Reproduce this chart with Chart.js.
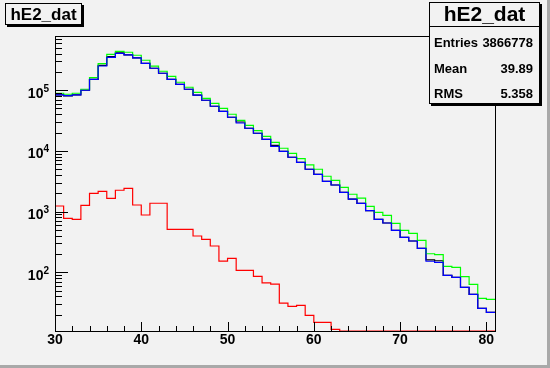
<!DOCTYPE html>
<html>
<head>
<meta charset="utf-8">
<script src="https://cdn.jsdelivr.net/npm/chart.js@4/dist/chart.umd.min.js"></script>
<style>
  html, body { margin: 0; padding: 0; background: #f2f2f2; }
  canvas { display: block; }
</style>
</head>
<body>
<canvas id="c" width="550" height="368"></canvas>
<script>
// hE2_dat — 1 unit bins from 30 to 81, log y axis
const xMin = 30, xMax = 81;
const yMin = 10.8, yMax = 7.8e5;
const binEdges = [];
for (let x = xMin; x <= xMax; x++) binEdges.push(x);

const xTickLabels = ['30', '40', '50', '60', '70', '80'];
const yDecades = [2, 3, 4, 5];

const greenVals = [88900, 85600, 88900, 103500, 160600, 273400, 390000, 437000, 421000, 376000,
  311000, 248000, 205000, 169000, 135000, 111600, 92300, 73500, 60800, 50300,
  40100, 31900, 26400, 21500, 17400, 13850, 11040, 9130, 7450, 5860,
  4980, 3820, 3280, 2515, 1930, 1665, 1215, 973, 868, 641,
  492, 439, 336, 202, 195, 125, 121, 84.7, 63.4, 37.3, 35.9];

const blueVals = [83400, 81200, 83400, 99600, 151000, 250000, 348000, 405000, 380000, 339000,
  277000, 229500, 190000, 151000, 125000, 103500, 83000, 68200, 54300, 44900,
  35800, 28800, 23600, 19500, 15500, 11900, 9850, 7850, 6490, 4980,
  4110, 3150, 2740, 2080, 1605, 1370, 1040, 747, 649, 492,
  377, 328, 248, 152, 146, 89, 82.8, 56.6, 43.4, 25.5, 21.9];

// mostly hidden under the blue one
const blackVals = [83400, 80500, 83400, 99600, 151000, 256000, 356000, 410000, 380000, 339000,
  277000, 229500, 190000, 151000, 125000, 103500, 83000, 68200, 54300, 44900,
  35800, 29900, 23600, 19500, 15500, 12300, 9850, 7850, 6490, 4980,
  4110, 3150, 2740, 2080, 1605, 1370, 1040, 747, 649, 492,
  377, 328, 248, 160, 155, 89, 82.8, 56.6, 43.4, 25.5, 21.9];

// empty bins sit on the axis floor
const redVals = [1236, 776, 747, 1270, 2000, 2160, 1655, 2245, 2420, 1285,
  879, 1372, 1372, 511, 511, 511, 396, 350, 271, 153,
  170, 108, 108, 86, 67, 64, 31, 27.5, 28.6, 19.5,
  15, 15, 11.5, 10.8, 10.8, 10.8, 10.8, 10.8, 10.8, 10.8,
  10.8, 10.8, 10.8, 10.8, 10.8, 10.8, 10.8, 10.8, 10.8, 10.8, 10.8];

const statsTitle = 'hE2_dat';
const statsRows = [['Entries', '3866778'], ['Mean', '39.89'], ['RMS', '5.358']];

function hist(vals, color) {
  return {
    data: binEdges.map((x, i) => ({ x, y: vals[Math.min(i, vals.length - 1)] })),
    borderColor: color, borderWidth: 1.2, stepped: true,
    pointRadius: 0, fill: false
  };
}

const FONT = '"Liberation Sans", Arial, sans-serif';

const rootFrame = {
  id: 'rootFrame',
  beforeDraw(chart) {
    const { ctx, width, height } = chart;
    ctx.save();
    ctx.fillStyle = '#f2f2f2';
    ctx.fillRect(0, 0, width, height);
    ctx.fillStyle = '#a9a9a9';
    ctx.fillRect(0, height - 3, width, 3);
    ctx.fillRect(width - 3, 0, 3, height);
    ctx.restore();
  },
  afterDatasetsDraw(chart) {
    const { ctx, chartArea: a } = chart;
    const xs = chart.scales.x, ys = chart.scales.y;
    ctx.save();
    ctx.strokeStyle = '#000'; ctx.lineWidth = 1;
    ctx.strokeRect(a.left + 0.5, a.top + 0.5, a.right - a.left, a.bottom - a.top);

    // x ticks every 2, long every 10
    ctx.beginPath();
    for (let v = 30; v <= 80; v += 2) {
      const px = Math.round(xs.getPixelForValue(v)) + 0.5;
      const len = v % 10 === 0 ? 9 : 5;
      ctx.moveTo(px, a.bottom); ctx.lineTo(px, a.bottom - len);
    }
    // y log ticks
    for (let d = 1; d <= 5; d++) {
      for (let m = 1; m <= 9; m++) {
        const v = m * Math.pow(10, d);
        if (v < yMin || v > yMax) continue;
        const py = Math.round(ys.getPixelForValue(v)) + 0.5;
        const len = m === 1 ? 13 : 7;
        ctx.moveTo(a.left, py); ctx.lineTo(a.left + len, py);
      }
    }
    ctx.stroke();

    ctx.fillStyle = '#000';
    ctx.font = 'bold 14px ' + FONT;
    ctx.textAlign = 'center'; ctx.textBaseline = 'alphabetic';
    xTickLabels.forEach(t => ctx.fillText(t, xs.getPixelForValue(+t), 344));

    yDecades.forEach(d => {
      const py = ys.getPixelForValue(Math.pow(10, d));
      ctx.font = 'bold 10px ' + FONT;
      const ew = ctx.measureText(String(d)).width;
      ctx.textAlign = 'left';
      ctx.fillText(String(d), 49 - ew, py + 1.5);
      ctx.font = 'bold 14px ' + FONT;
      ctx.textAlign = 'right';
      ctx.fillText('10', 49 - ew, py + 7.5);
    });

    // title pave
    ctx.fillStyle = '#000';
    ctx.fillRect(7, 5, 77, 22);
    ctx.fillStyle = '#f2f2f2';
    ctx.fillRect(5, 3, 77, 22);
    ctx.strokeRect(5.5, 3.5, 76, 21);
    ctx.fillStyle = '#000';
    ctx.font = 'bold 17px ' + FONT;
    ctx.textAlign = 'center';
    ctx.fillText('hE2_dat', 43.5, 19.5);

    // stats box
    const bx = 429, by = 2, bw = 111, bh = 102;
    ctx.fillRect(bx + 2, by + 2, bw, bh);
    ctx.fillStyle = '#f2f2f2';
    ctx.fillRect(bx, by, bw, bh);
    ctx.strokeRect(bx + 0.5, by + 0.5, bw - 1, bh - 1);
    ctx.beginPath();
    ctx.moveTo(bx, 26.5); ctx.lineTo(bx + bw, 26.5);
    ctx.stroke();
    ctx.fillStyle = '#000';
    ctx.font = 'bold 21px ' + FONT;
    ctx.textAlign = 'center';
    ctx.fillText(statsTitle, bx + bw / 2, 21);
    ctx.font = 'bold 13px ' + FONT;
    const rowY = [47, 72.5, 98];
    statsRows.forEach((r, i) => {
      ctx.textAlign = 'left'; ctx.fillText(r[0], 434, rowY[i]);
      ctx.textAlign = 'right'; ctx.fillText(r[1], 533, rowY[i]);
    });
    ctx.restore();
  }
};

new Chart(document.getElementById('c'), {
  type: 'line',
  data: {
    datasets: [hist(redVals, '#ff0000'), hist(blueVals, '#0000ff'), hist(greenVals, '#00ff00'), hist(blackVals, '#000000')]
  },
  options: {
    animation: false, responsive: false, maintainAspectRatio: false,
    layout: { padding: { left: 55, right: 55, top: 36, bottom: 37 } },
    plugins: { legend: { display: false }, tooltip: { enabled: false } },
    scales: {
      x: { type: 'linear', min: xMin, max: xMax, display: false },
      y: { type: 'logarithmic', min: yMin, max: yMax, display: false }
    }
  },
  plugins: [rootFrame]
});
</script>
</body>
</html>
